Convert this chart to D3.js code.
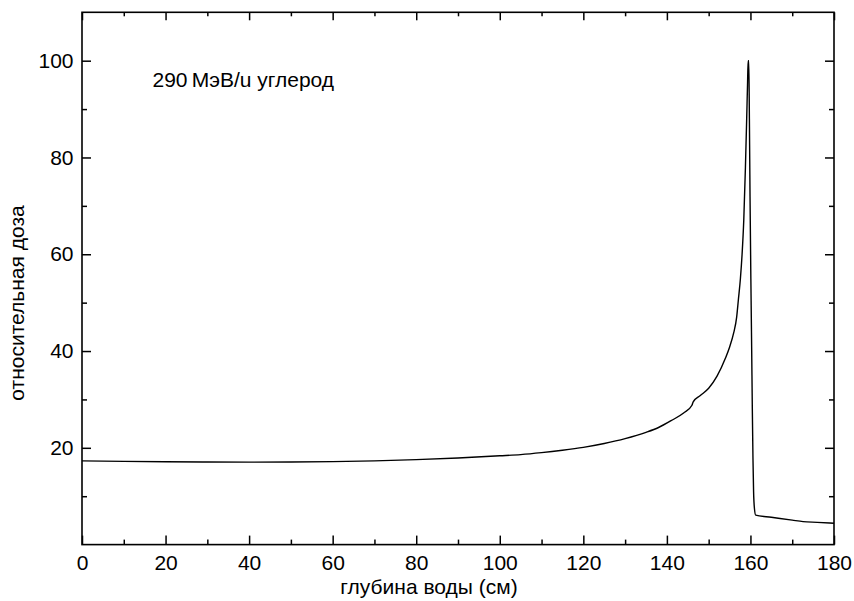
<!DOCTYPE html>
<html>
<head>
<meta charset="utf-8">
<script src="https://cdn.jsdelivr.net/npm/d3@7"></script>
<style>
  html, body { margin: 0; padding: 0; background: #fff; }
  svg { display: block; }
  text { font-family: "Liberation Sans", Arial, sans-serif; fill: #000; }
</style>
</head>
<body>
<svg id="chart" width="854" height="601"></svg>
<script>
// Depth in water (cm) and relative dose
const depth = [0, 10, 20, 30, 40, 50, 60, 70, 80, 90, 100, 105, 110, 115, 120, 125, 130, 135, 138, 141, 144, 146, 146.3, 148, 150, 152, 154, 155, 156, 156.7, 157.1, 157.6, 158.0, 158.4, 158.8, 159.1, 159.3, 159.45, 159.6, 159.75, 159.9, 160.1, 160.3, 160.45, 160.6, 160.75, 160.95, 161.25, 165, 170, 172.6, 176, 180];
const dose  = [17.3, 17.2, 17.12, 17.07, 17.05, 17.07, 17.15, 17.3, 17.55, 17.9, 18.35, 18.6, 19.0, 19.5, 20.1, 20.9, 21.9, 23.2, 24.2, 25.6, 27.2, 28.8, 29.5, 30.8, 32.3, 34.8, 38.5, 40.8, 43.8, 47, 50.5, 55, 60, 67, 78, 88, 95, 100, 100, 88, 72, 55, 40, 28, 18, 11, 7.5, 6.1, 5.65, 5.05, 4.75, 4.6, 4.4];

const xMajorTicks = [0, 20, 40, 60, 80, 100, 120, 140, 160, 180];
const xMinorTicks = [10, 30, 50, 70, 90, 110, 130, 150, 170];
const yMajorTicks = [20, 40, 60, 80, 100];
const yMinorTicks = [10, 30, 50, 70, 90];

const annotation = "290\u2009MэВ/u углерод";
const xTitle = "глубина воды (см)";
const yTitle = "относительная доза";

const svg = d3.select("#chart");
const L = 82, R = 834, T = 12.3, B = 544.6;

const x = d3.scaleLinear().domain([0, 180]).range([L, R]);
const y = d3.scaleLinear().domain([0, 110]).range([B, T]);

const fs = 21;

function styleAxis(g) {
  g.select(".domain").remove();
  g.selectAll(".tick line").attr("stroke", "#000").attr("stroke-width", 1.5);
  g.selectAll(".tick text").attr("font-size", fs).attr("font-family", "Liberation Sans, Arial, sans-serif").attr("fill", "#000");
}

// bottom
svg.append("g").attr("transform", `translate(0,${B})`)
  .call(d3.axisBottom(x).tickValues(xMajorTicks).tickSize(-9).tickPadding(10.5).tickFormat(d3.format("d")))
  .call(styleAxis);
svg.append("g").attr("transform", `translate(0,${B})`)
  .call(d3.axisBottom(x).tickValues(xMinorTicks).tickSize(-5).tickFormat(""))
  .call(styleAxis);
// top
svg.append("g").attr("transform", `translate(0,${T})`)
  .call(d3.axisTop(x).tickValues(xMajorTicks).tickSize(-8).tickFormat(""))
  .call(styleAxis);
svg.append("g").attr("transform", `translate(0,${T})`)
  .call(d3.axisTop(x).tickValues(xMinorTicks).tickSize(-4).tickFormat(""))
  .call(styleAxis);
// left
svg.append("g").attr("transform", `translate(${L},0)`)
  .call(d3.axisLeft(y).tickValues(yMajorTicks).tickSize(-9).tickPadding(8.5).tickFormat(d3.format("d")))
  .call(styleAxis);
svg.append("g").attr("transform", `translate(${L},0)`)
  .call(d3.axisLeft(y).tickValues(yMinorTicks).tickSize(-5).tickFormat(""))
  .call(styleAxis);
// right
svg.append("g").attr("transform", `translate(${R},0)`)
  .call(d3.axisRight(y).tickValues(yMajorTicks).tickSize(-9).tickFormat(""))
  .call(styleAxis);
svg.append("g").attr("transform", `translate(${R},0)`)
  .call(d3.axisRight(y).tickValues(yMinorTicks).tickSize(-5).tickFormat(""))
  .call(styleAxis);

// frame
svg.append("rect")
  .attr("x", L).attr("y", T).attr("width", R - L).attr("height", B - T)
  .attr("fill", "none").attr("stroke", "#000").attr("stroke-width", 1.6);

// curve
const pts = depth.map((d, i) => [d, dose[i]]);
svg.append("path")
  .datum(pts)
  .attr("fill", "none")
  .attr("stroke", "#000")
  .attr("stroke-width", 1.4)
  .attr("stroke-linejoin", "round")
  .attr("d", d3.line().curve(d3.curveMonotoneX).x(d => x(d[0])).y(d => y(d[1])));

// annotation
svg.append("text")
  .attr("x", 152.5).attr("y", 87.3)
  .attr("font-size", fs)
  .text(annotation);

// axis titles
svg.append("text")
  .attr("x", 429).attr("y", 594)
  .attr("text-anchor", "middle")
  .attr("font-size", fs)
  .text(xTitle);

svg.append("text")
  .attr("transform", "translate(24,303) rotate(-90)")
  .attr("text-anchor", "middle")
  .attr("font-size", fs)
  .text(yTitle);
</script>
</body>
</html>
